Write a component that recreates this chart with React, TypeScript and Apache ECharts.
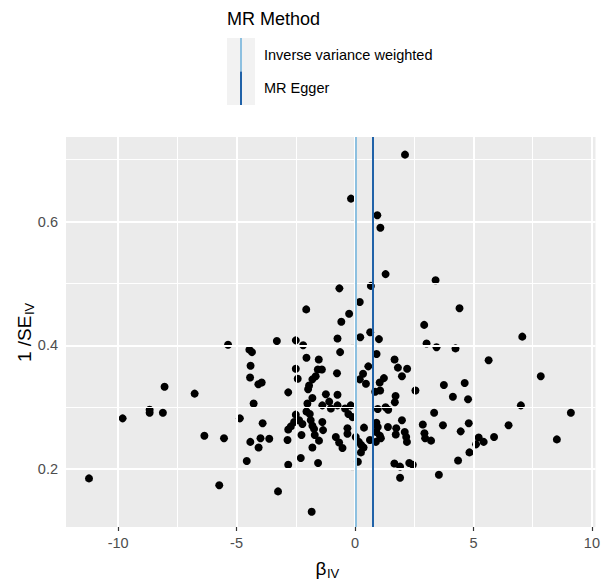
import React, { useEffect, useRef } from "react";
import * as echarts from "echarts";

// Instrument estimates (beta_IV) and precision (1/SE_IV)
const betaIV = [
  -11.23, -9.81, -8.67, -8.67, -8.04, -8.11, -6.77, -6.36, -5.73, -5.53,
  -5.36, -4.86, -4.57, -4.46, -4.35, -4.41, -4.43, -4.08, -3.94, -4.28,
  -3.9, -4.42, -3.99, -3.62, -4.07, -3.3, -3.25, -2.5, -2.19, -2.06,
  -0.66, -0.25, -0.58, -0.74, -0.63, -2.05, -1.53, -2.5, -1.57, -1.4,
  -0.76, -2.42, -1.66, -1.8, -1.94, -1.98, -2.82, -1.23, -0.74, -1.8,
  -2.01, -1.38, -1.09, -1.02, -0.74, -0.42, -0.18, -0.28, -0.11, -2.5,
  -2.36, -2.22, -2.57, -2.71, -2.82, -2.05, -1.91, -1.87, -1.8, -1.73,
  -1.7, -1.52, -1.38, -1.35, -2.26, -2.85, -1.8, -0.81, -0.67, -0.53,
  -0.32, -0.32, -2.29, -2.82, -1.56, -1.83, -0.17,
  0.2, 0.22, 0.64, 1.01, 0.91, 0.56, 0.34, 0.2, 0.46, 1.22,
  1.04, 0.85, 1.06, 1.67, 1.81, 2.2, 1.98, 2.55, 1.71, 1.68,
  0.96, 1.29, 1.4, 3.34, 0.38, 0.63, 0.9, 0.96, 0.9, 1.05,
  0.88, 1.09, 1.39, 1.74, 1.72, 1.98, 2.1, 2.16, 2.19, 2.86,
  2.93, 2.96, 3.21, 3.71, 3.54, 0.03, 0.16, 0.26, 0.36, 0.25,
  0.12, 1.66, 1.9, 1.9, 2.29, 2.44, 2.92, 3.02, 3.44, 4.41,
  4.24, 3.75, 4.13, 4.63, 4.77, 4.46, 4.8, 4.35, 4.83, 5.11,
  5.22, 5.43, 5.87, 5.64, 6.48, 7.0, 7.06, 7.84, 8.52, 9.11,
  2.11, 0.94, 1.07, 1.29, 3.4, 0.67,
];
const invSE = [
  0.185, 0.282, 0.296, 0.291, 0.333, 0.291, 0.322, 0.254, 0.174, 0.25,
  0.401, 0.282, 0.213, 0.393, 0.389, 0.367, 0.348, 0.337, 0.34, 0.306,
  0.274, 0.244, 0.25, 0.249, 0.235, 0.407, 0.164, 0.408, 0.4, 0.458,
  0.492, 0.451, 0.438, 0.411, 0.389, 0.38, 0.377, 0.362, 0.361, 0.361,
  0.355, 0.346, 0.35, 0.345, 0.335, 0.329, 0.324, 0.321, 0.32, 0.315,
  0.306, 0.303, 0.309, 0.298, 0.303, 0.298, 0.303, 0.289, 0.284, 0.288,
  0.279, 0.273, 0.276, 0.269, 0.264, 0.293, 0.289, 0.279, 0.27, 0.265,
  0.255, 0.246, 0.276, 0.263, 0.255, 0.247, 0.235, 0.252, 0.243, 0.234,
  0.266, 0.257, 0.218, 0.207, 0.21, 0.131, 0.637,
  0.47, 0.413, 0.421, 0.41, 0.386, 0.366, 0.354, 0.345, 0.338, 0.347,
  0.34, 0.325, 0.327, 0.377, 0.364, 0.362, 0.35, 0.327, 0.318, 0.308,
  0.297, 0.3, 0.296, 0.291, 0.267, 0.247, 0.275, 0.268, 0.26, 0.254,
  0.244, 0.25, 0.268, 0.266, 0.256, 0.279, 0.26, 0.252, 0.244, 0.272,
  0.258, 0.25, 0.246, 0.271, 0.191, 0.252, 0.244, 0.239, 0.235, 0.227,
  0.212, 0.209, 0.204, 0.186, 0.21, 0.207, 0.433, 0.403, 0.397, 0.46,
  0.395, 0.336, 0.317, 0.339, 0.313, 0.261, 0.274, 0.214, 0.227, 0.24,
  0.251, 0.244, 0.252, 0.376, 0.271, 0.303, 0.414, 0.35, 0.248, 0.291,
  0.708, 0.61, 0.59, 0.515, 0.505, 0.496,
];

const methods = ["Inverse variance weighted", "MR Egger"];
const methodEstimates = [0.03, 0.74];
const methodColors = ["#8dc0e0", "#2062a8"];

const xMajor = [-10, -5, 0, 5, 10];
const xMinor = [-7.5, -2.5, 2.5, 7.5];
const yMajor = [0.2, 0.4, 0.6];
const yMinor = [0.3, 0.5, 0.7];

const FONT = "Liberation Sans, Arial, Helvetica, sans-serif";

export default function App() {
  const ref = useRef<HTMLDivElement>(null);
  useEffect(() => {
    if (!ref.current) return;
    document.body.style.margin = "0";
    const chart = echarts.init(ref.current, undefined, { renderer: "svg" });
    const gridL = 66, gridT = 137, gridW = 531, gridH = 390;
    const points = betaIV.map((b, i) => [b, invSE[i]]);
    const gridLines = [
      ...xMajor.map((v) => ({ xAxis: v, lineStyle: { width: 2, color: "#ffffff", type: "solid" } })),
      ...xMinor.map((v) => ({ xAxis: v, lineStyle: { width: 1, color: "#ffffff", type: "solid" } })),
      ...yMajor.map((v) => ({ yAxis: v, lineStyle: { width: 2, color: "#ffffff", type: "solid" } })),
      ...yMinor.map((v) => ({ yAxis: v, lineStyle: { width: 1, color: "#ffffff", type: "solid" } })),
    ];
    const legendX = 227, legendY = 38, keyH = 33.5;
    chart.setOption({
      animation: false,
      textStyle: { fontFamily: FONT },
      grid: {
        left: gridL, top: gridT, width: gridW, height: gridH,
        show: true, backgroundColor: "#EBEBEB", borderWidth: 0,
      },
      xAxis: {
        type: "value", min: -12.2, max: 10.15,
        splitLine: { show: false },
        axisLine: { show: false },
        axisTick: { show: true, customValues: xMajor, length: 4, lineStyle: { color: "#333333", width: 1.2 } },
        axisLabel: { customValues: xMajor, color: "#4D4D4D", fontSize: 14.5, margin: 8, fontFamily: FONT },
      },
      yAxis: {
        type: "value", min: 0.1065, max: 0.7365,
        splitLine: { show: false },
        axisLine: { show: false },
        axisTick: { show: true, customValues: yMajor, length: 4, lineStyle: { color: "#333333", width: 1.2 } },
        axisLabel: {
          customValues: yMajor, color: "#4D4D4D", fontSize: 14.5, margin: 8, fontFamily: FONT,
          formatter: (v: number) => v.toFixed(1),
        },
      },
      series: [
        {
          type: "line", data: [], z: 1, silent: true,
          markLine: { silent: true, symbol: "none", label: { show: false }, data: gridLines },
        },
        {
          type: "scatter", data: points, symbolSize: 8, z: 3,
          itemStyle: { color: "#000000", opacity: 1 },
        },
        {
          type: "line", data: [], z: 4, silent: true,
          markLine: {
            silent: true, symbol: "none", label: { show: false },
            data: methodEstimates.map((v, i) => ({
              xAxis: v, lineStyle: { color: methodColors[i], width: 2, type: "solid" },
            })),
          },
        },
      ],
      graphic: [
        { type: "text", left: 227, top: 10, style: { text: "MR Method", fontSize: 18, fill: "#000000", fontFamily: FONT } },
        { type: "rect", shape: { x: legendX, y: legendY, width: 28, height: keyH * 2 }, style: { fill: "#F2F2F2" } },
        ...methods.map((m, i) => ({
          type: "line",
          shape: { x1: legendX + 14, y1: legendY + keyH * i, x2: legendX + 14, y2: legendY + keyH * (i + 1) },
          style: { stroke: methodColors[i], lineWidth: 2 },
        })),
        ...methods.map((m, i) => ({
          type: "text", x: 264, y: legendY + keyH * i + keyH / 2,
          style: { text: m, fontSize: 14.5, fill: "#000000", fontFamily: FONT, verticalAlign: "middle", align: "left" },
        })),
        {
          type: "group", x: 327, y: 568,
          children: [
            { type: "text", x: -6, y: 0, style: { text: "β", fontSize: 19, fill: "#000000", fontFamily: FONT, align: "center", verticalAlign: "middle" } },
            { type: "text", x: 0, y: 5, style: { text: "IV", fontSize: 13, fill: "#000000", fontFamily: FONT, align: "left", verticalAlign: "middle" } },
          ],
        },
        {
          type: "group", x: 24, y: 332, rotation: Math.PI / 2,
          children: [
            { type: "text", x: -30, y: 0, style: { text: "1 /SE", fontSize: 19, fill: "#000000", fontFamily: FONT, align: "left", verticalAlign: "middle" } },
            { type: "text", x: 17, y: 5, style: { text: "IV", fontSize: 13, fill: "#000000", fontFamily: FONT, align: "left", verticalAlign: "middle" } },
          ],
        },
      ],
    });
    return () => chart.dispose();
  }, []);
  return <div ref={ref} style={{ width: 603, height: 582 }} />;
}
